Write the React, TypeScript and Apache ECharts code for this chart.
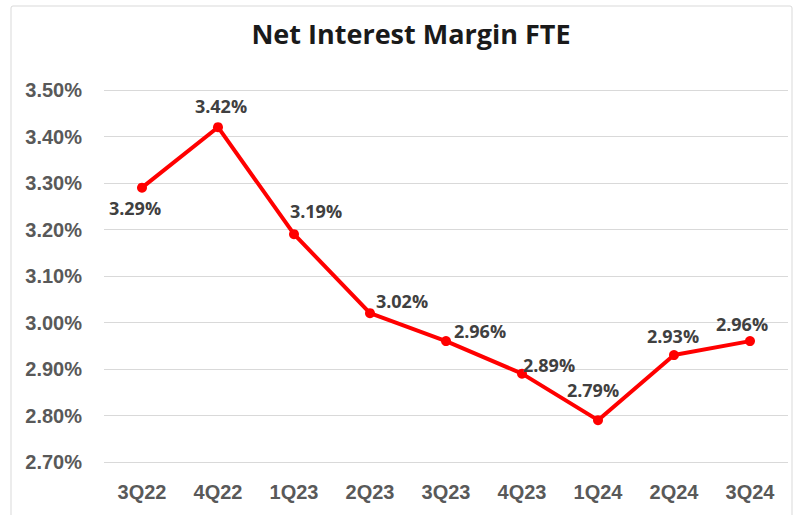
import React, { useEffect, useRef } from "react";
import * as echarts from "echarts";

const categories = ["3Q22", "4Q22", "1Q23", "2Q23", "3Q23", "4Q23", "1Q24", "2Q24", "3Q24"];
const nimValues = [3.29, 3.42, 3.19, 3.02, 2.96, 2.89, 2.79, 2.93, 2.96];
const yTicks = { min: 2.7, max: 3.5, interval: 0.1 };
const titleText = "Net Interest Margin FTE";
// label offsets (label centre relative to point)
const labelOffsets: [number, number][] = [
  [-7, 20],
  [3, -21],
  [22, -23],
  [32, -12],
  [34, -10],
  [27, -9],
  [-5, -30],
  [-1, -19],
  [-8, -17],
];

export default function App() {
  const ref = useRef<HTMLDivElement>(null);
  useEffect(() => {
    if (!ref.current) return;
    const chart = echarts.init(ref.current, undefined, { renderer: "svg" });
    const data = nimValues.map((v, i) => ({
      value: v,
      label: { offset: labelOffsets[i] },
    }));
    chart.setOption({
      animation: false,
      backgroundColor: "#ffffff",
      graphic: [
        {
          type: "rect",
          shape: { x: 11, y: 6, width: 781, height: 515, r: 2 },
          style: { fill: "none", stroke: "#d9d9d9", lineWidth: 1 },
          silent: true,
        },
        {
          type: "text",
          x: 411,
          y: 33,
          style: {
            text: titleText,
            font: "bold 27px 'Open Sans'",
            fill: "#1a1a1a",
            align: "center",
            verticalAlign: "middle",
          },
        },
      ],
      grid: { left: 104, right: 6, top: 90, bottom: 53, containLabel: false },
      xAxis: {
        type: "category",
        data: categories,
        boundaryGap: true,
        axisLine: { show: false },
        axisTick: { show: false },
        axisLabel: {
          color: "#595959",
          fontFamily: "Liberation Sans",
          fontWeight: "bold",
          fontSize: 20,
          margin: 20,
        },
      },
      yAxis: {
        type: "value",
        min: yTicks.min,
        max: yTicks.max,
        interval: yTicks.interval,
        axisLine: { show: false },
        axisTick: { show: false },
        splitLine: { lineStyle: { color: "#d9d9d9", width: 1 } },
        axisLabel: {
          color: "#595959",
          fontFamily: "Liberation Sans",
          fontWeight: "bold",
          fontSize: 20,
          margin: 22,
          formatter: (v: number) => v.toFixed(2) + "%",
        },
      },
      series: [
        {
          type: "line",
          data,
          symbol: "circle",
          symbolSize: 10,
          lineStyle: { color: "#ff0000", width: 4 },
          itemStyle: { color: "#ff0000" },
          label: {
            show: true,
            position: "inside",
            color: "#404040",
            fontFamily: "Open Sans",
            fontWeight: "bold",
            fontSize: 18,
            formatter: (p: any) => p.value.toFixed(2) + "%",
          },
        },
      ],
    });
    return () => chart.dispose();
  }, []);
  return (
    <div
      ref={ref}
      style={{ position: "fixed", left: 0, top: 0, width: 794, height: 515 }}
    />
  );
}
